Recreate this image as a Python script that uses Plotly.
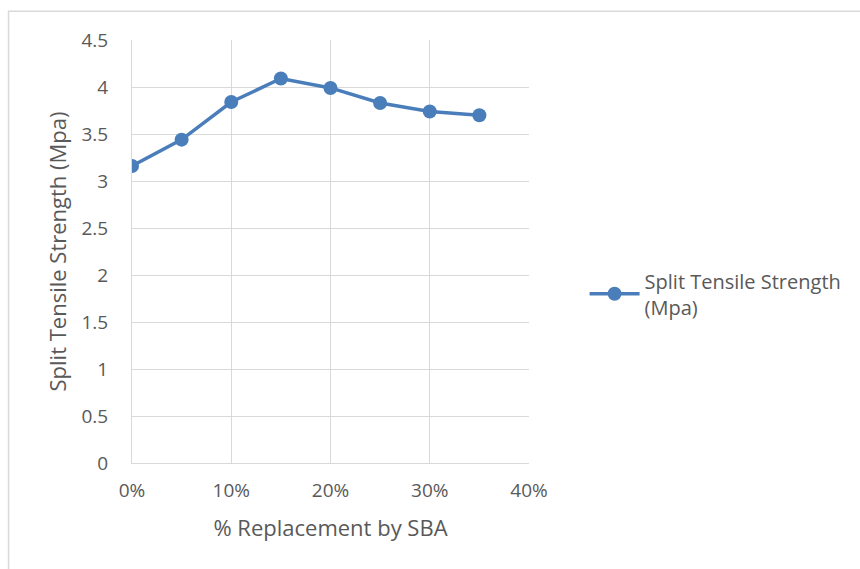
import plotly.graph_objects as go

# SBA replacement level (fraction) and measured split tensile strength
replacement = [0.00, 0.05, 0.10, 0.15, 0.20, 0.25, 0.30, 0.35]
strength = [3.16, 3.44, 3.84, 4.09, 3.99, 3.83, 3.74, 3.70]
series_name = "Split Tensile Strength<br>(Mpa)"

y_ticks = [0, 0.5, 1, 1.5, 2, 2.5, 3, 3.5, 4, 4.5]
y_tick_text = ["0", "0.5", "1", "1.5", "2", "2.5", "3", "3.5", "4", "4.5"]
x_ticks = [0, 0.1, 0.2, 0.3, 0.4]
x_tick_text = ["0%", "10%", "20%", "30%", "40%"]

FONT = "'Open Sans', sans-serif"
GRID = "#d9d9d9"
BLUE = "#4a7ebb"
TEXT = "#595959"

fig = go.Figure()
fig.add_trace(go.Scatter(
    x=replacement, y=strength, mode="lines+markers", name=series_name,
    line=dict(color=BLUE, width=3.5),
    marker=dict(color=BLUE, size=14),
))

fig.update_layout(
    width=860, height=569,
    margin=dict(l=132, r=331, t=40, b=106),
    paper_bgcolor="white", plot_bgcolor="white",
    font=dict(family=FONT, size=19, color=TEXT),
    showlegend=True,
    legend=dict(x=1.14, y=0.40, xanchor="left", yanchor="middle",
                font=dict(size=20, color=TEXT), itemwidth=50,
                bgcolor="rgba(0,0,0,0)"),
    xaxis=dict(range=[0, 0.4], tickvals=x_ticks, ticktext=x_tick_text,
               showgrid=True, gridcolor=GRID, gridwidth=1,
               showline=True, linecolor=GRID, linewidth=1, mirror=False,
               zeroline=False, ticks="", ticklabelstandoff=10,
               title=dict(text="% Replacement by SBA", standoff=18,
                          font=dict(size=22, color=TEXT))),
    yaxis=dict(range=[0, 4.5], tickvals=y_ticks, ticktext=y_tick_text,
               showgrid=True, gridcolor=GRID, gridwidth=1,
               showline=True, linecolor=GRID, linewidth=1,
               zeroline=False, ticks="", ticklabelstandoff=19,
               title=dict(text="Split Tensile Strength (Mpa)", standoff=8,
                          font=dict(size=22, color=TEXT))),
    shapes=[dict(type="rect", xref="paper", yref="paper",
                 x0=-0.311, x1=2.0, y0=-1.0, y1=1.068,
                 line=dict(color="#d9d9d9", width=1.5), layer="below")],
)

fig.write_html("out.html")
